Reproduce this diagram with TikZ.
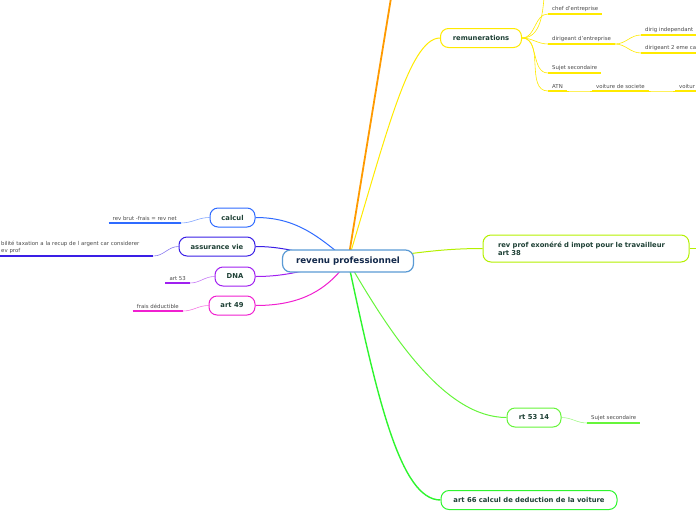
\documentclass[tikz,border=0pt]{standalone}
\usepackage{fontspec}
\setmainfont{DejaVu Sans}
\usetikzlibrary{positioning,backgrounds}

\definecolor{rootline}{HTML}{5B9BD5}
\definecolor{roottext}{HTML}{13294B}
\definecolor{nodetext}{HTML}{1E4035}
\definecolor{leaftext}{HTML}{4A4A4A}
\definecolor{orcol}{HTML}{FF9A00}
\definecolor{remcol}{HTML}{FFEA00}
\definecolor{limecol}{HTML}{B4F000}
\definecolor{rtcol}{HTML}{66F53A}
\definecolor{voitcol}{HTML}{2EF52E}
\definecolor{calcol}{HTML}{2F6BFF}
\definecolor{asscol}{HTML}{3A1FE6}
\definecolor{dnacol}{HTML}{A020F0}
\definecolor{artcol}{HTML}{F020D0}

\begin{document}
\begin{tikzpicture}[
    x=1pt, y=-1pt,
    topic/.style={rectangle, rounded corners=8pt, draw=#1, line width=1pt, fill=white,
        text=nodetext, font=\fontsize{6.8}{8.2}\selectfont\bfseries,
        minimum height=19pt, inner xsep=8pt},
    leaf/.style={inner xsep=4pt, inner ysep=2pt, text=leaftext,
        font=\fontsize{5.4}{6.8}\selectfont},
    link/.style={draw=#1, line width=1pt},
    sublink/.style={draw=#1, line width=0.6pt}
]
    \useasboundingbox (0,0) rectangle (696,520);

    % Root
    \node[rectangle, rounded corners=8pt, draw=rootline, line width=1.2pt, fill=white,
        text=roottext, font=\fontsize{8.7}{10}\selectfont\bfseries,
        minimum width=131pt, minimum height=22pt] (root) at (348,261) {revenu professionnel};

    % Main topics, right
    \node[topic=remcol, minimum width=81pt] (remun) at (481,38) {remunerations};
    \node[topic=limecol, text width=176pt, align=left, minimum height=27pt, inner xsep=15pt]
        (exonere) at (586,248.5) {rev prof exonéré d impot pour le travailleur\\art 38};
    \node[topic=rtcol, minimum width=54pt] (rt) at (534,417.5) {rt 53 14};
    \node[topic=voitcol, minimum width=176pt] (art66) at (529,500) {art 66 calcul de deduction de la voiture};

    % Main topics, left
    \node[topic=calcol, minimum width=45pt] (calcul) at (232.5,217.5) {calcul};
    \node[topic=asscol, minimum width=76pt] (assur) at (217,246.5) {assurance vie};
    \node[topic=dnacol, minimum width=40pt] (dna) at (235,276.5) {DNA};
    \node[topic=artcol, minimum width=46pt] (art49) at (232,305.5) {art 49};

    % Subtopics
    \node[leaf, anchor=south west] (chef) at (548,14) {chef d'entreprise};
    \node[leaf, anchor=south west] (dirent) at (548,44) {dirigeant d'entreprise};
    \node[leaf, anchor=south west] (indep) at (641,35) {dirig independant};
    \node[leaf, anchor=south west] (deuxcat) at (641,53) {dirigeant 2 eme ca};
    \node[leaf, anchor=south west] (sujet) at (548,73) {Sujet secondaire};
    \node[leaf, anchor=south west] (atn) at (548,91) {ATN};
    \node[leaf, anchor=south west] (societe) at (592,91) {voiture de societe};
    \node[leaf, anchor=south west] (voitur) at (675,91) {voitur};
    \node[leaf, anchor=south west] (sujetrt) at (587,423) {Sujet secondaire};
    \node[leaf, anchor=south east] (brut) at (181,223) {rev brut -frais = rev net};
    \node[leaf, anchor=south west, text width=148pt, align=left] (recup) at (-3,256)
        {bilité taxation a la recup de l argent car considerer\\ev prof};
    \node[leaf, anchor=south east] (art53) at (190,283) {art 53};
    \node[leaf, anchor=south east] (frais) at (183,311) {frais déductible};

    \foreach \n/\c in {chef/remcol, dirent/remcol, indep/remcol, deuxcat/remcol, sujet/remcol,
        atn/remcol, societe/remcol, voitur/remcol, sujetrt/rtcol, brut/calcol, recup/asscol,
        art53/dnacol, frais/artcol}
        \draw[draw=\c, line width=1.3pt] (\n.south west) -- (\n.south east);

    % Free ends
    \coordinate (ortop) at (391,-2);
    \coordinate (remtop) at (544,-2);
    \coordinate (exoright) at (700,248.5);

    \begin{scope}[on background layer]
        \draw[link=orcol, line width=1.8pt] (root.center) -- (ortop);
        \draw[link=remcol] (root.center) to[out=73, in=180, out looseness=1.34, in looseness=0.33] (remun.west);
        \draw[link=limecol] (root.center) to[out=5, in=180] (exonere.west);
        \draw[link=rtcol] (root.center) to[out=-60, in=180, in looseness=0.7] (rt.west);
        \draw[link=voitcol, line width=1.4pt] (root.center) to[out=-78, in=180, out looseness=1.4, in looseness=0.4] (art66.west);
        \draw[link=calcol] (root.center) to[out=140, in=0] (calcul.east);
        \draw[link=asscol] (root.center) to[out=175, in=0] (assur.east);
        \draw[link=dnacol] (root.center) to[out=190, in=0] (dna.east);
        \draw[link=artcol] (root.center) to[out=235, in=0] (art49.east);

        % Subtopic links
        \draw[sublink=remcol] (remun.east) to[out=0, in=-95] (remtop);
        \draw[sublink=remcol] (remun.east) to[out=0, in=180] (chef.south west);
        \draw[sublink=remcol] (remun.east) to[out=0, in=180] (dirent.south west);
        \draw[sublink=remcol] (remun.east) to[out=0, in=180] (sujet.south west);
        \draw[sublink=remcol] (remun.east) to[out=0, in=180] (atn.south west);
        \draw[sublink=remcol] (dirent.south east) to[out=0, in=180] (indep.south west);
        \draw[sublink=remcol] (dirent.south east) to[out=0, in=180] (deuxcat.south west);
        \draw[sublink=remcol] (atn.south east) to[out=0, in=180] (societe.south west);
        \draw[sublink=remcol] (societe.south east) to[out=0, in=180] (voitur.south west);
        \draw[link=limecol] (exonere.east) -- (exoright);
        \draw[sublink=rtcol!60] (rt.east) to[out=0, in=180] (sujetrt.south west);
        \draw[sublink=calcol!60] (calcul.west) to[out=180, in=0] (brut.south east);
        \draw[sublink=asscol!60] (assur.west) to[out=180, in=0] (recup.south east);
        \draw[sublink=dnacol!60] (dna.west) to[out=180, in=0] (art53.south east);
        \draw[sublink=artcol!60] (art49.west) to[out=180, in=0] (frais.south east);
    \end{scope}
\end{tikzpicture}
\end{document}
